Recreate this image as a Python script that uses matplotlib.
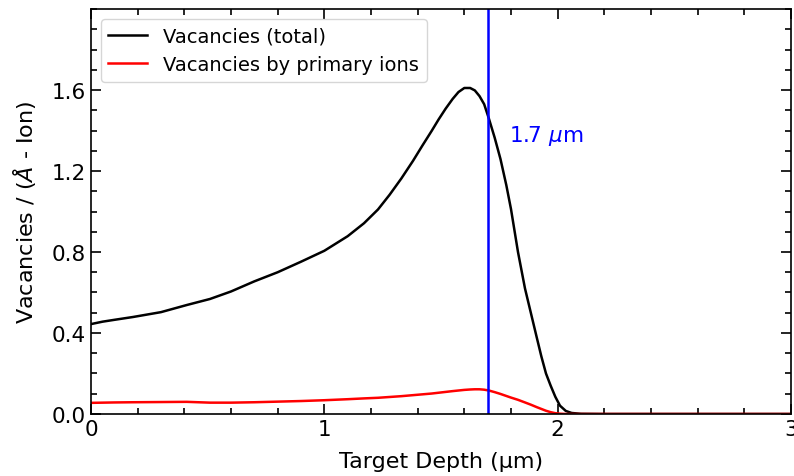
import matplotlib
matplotlib.use('Agg')
import matplotlib.pyplot as plt
from matplotlib.ticker import MultipleLocator

# depth (um) and vacancies / (A - Ion)
depth = [0.0, 0.05, 0.1, 0.18, 0.3, 0.41, 0.51, 0.6, 0.7, 0.8, 0.9, 1.0, 1.1, 1.17,
         1.23, 1.28, 1.33, 1.38, 1.42, 1.46, 1.49, 1.52, 1.55, 1.575, 1.6, 1.625,
         1.645, 1.665, 1.685, 1.705, 1.73, 1.755, 1.78, 1.8, 1.83, 1.86, 1.885,
         1.91, 1.93, 1.95, 1.97, 1.99, 2.01, 2.035, 2.06, 2.1, 2.2, 2.5, 3.0]
vac_total = [0.444, 0.456, 0.465, 0.479, 0.503, 0.538, 0.568, 0.605, 0.655, 0.700, 0.752, 0.806, 0.878, 0.942,
             1.010, 1.083, 1.163, 1.250, 1.325, 1.398, 1.455, 1.508, 1.556, 1.590, 1.610, 1.610,
             1.598, 1.570, 1.530, 1.460, 1.365, 1.259, 1.130, 1.012, 0.800, 0.620, 0.500,
             0.380, 0.285, 0.200, 0.140, 0.085, 0.041, 0.015, 0.005, 0.001, 0.0, 0.0, 0.0]
vac_primary = [0.055, 0.056, 0.057, 0.058, 0.059, 0.060, 0.056, 0.056, 0.058, 0.061, 0.064, 0.068, 0.073, 0.077,
               0.080, 0.084, 0.088, 0.093, 0.097, 0.101, 0.105, 0.109, 0.113, 0.116, 0.119, 0.121,
               0.122, 0.122, 0.120, 0.116, 0.108, 0.099, 0.089, 0.081, 0.070, 0.057, 0.046,
               0.034, 0.025, 0.016, 0.009, 0.004, 0.0015, 0.0, 0.0, 0.0, 0.0, 0.0, 0.0]
marker_depth = 1.7
marker_label = '1.7 $\\mu$m'

fig = plt.figure(figsize=(7.94, 4.77), dpi=100)
ax = fig.add_axes([0.1146, 0.130, 0.8816, 0.849])

ax.plot(depth, vac_total, color='black', linewidth=1.8, label='Vacancies (total)')
ax.plot(depth, vac_primary, color='red', linewidth=1.8, label='Vacancies by primary ions')
ax.axvline(marker_depth, color='blue', linewidth=1.8)
ax.text(marker_depth + 0.09, 1.38, marker_label, color='blue', va='center', fontsize=15.5)

ax.set_xlim(0, 3)
ax.set_ylim(0, 2.0)
ax.xaxis.set_major_locator(MultipleLocator(1))
ax.xaxis.set_minor_locator(MultipleLocator(0.2))
ax.yaxis.set_minor_locator(MultipleLocator(0.1))
ax.set_yticks([0.0, 0.4, 0.8, 1.2, 1.6])
ax.tick_params(which='both', direction='in', top=True, right=True, width=1.2)
ax.tick_params(which='major', length=7, labelsize=15.5)
ax.tick_params(which='minor', length=4)
for s in ax.spines.values():
    s.set_linewidth(1.2)

ax.set_xlabel('Target Depth (\u00b5m)', fontsize=16, labelpad=9)
ax.set_ylabel('Vacancies / ($\\AA$ - Ion)', fontsize=16, labelpad=10)
ax.legend(loc='upper left', fontsize=14)

fig.savefig('out.png', dpi=100)
